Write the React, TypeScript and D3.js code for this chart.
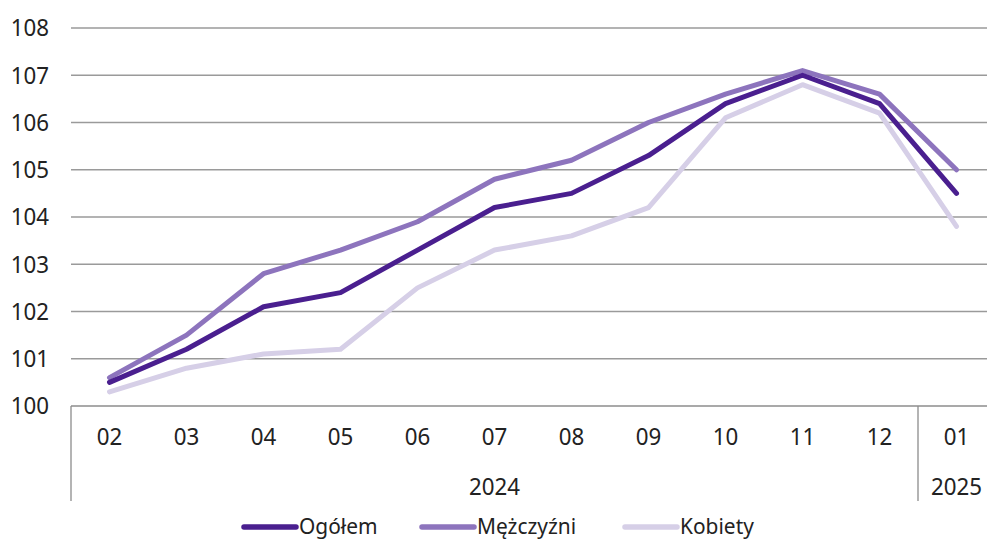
import React from "react";
import * as d3 from "d3";

const months = ["02", "03", "04", "05", "06", "07", "08", "09", "10", "11", "12", "01"];
const years = [
  { label: "2024", from: 0, to: 10 },
  { label: "2025", from: 11, to: 11 },
];
const ogolem = [100.5, 101.2, 102.1, 102.4, 103.3, 104.2, 104.5, 105.3, 106.4, 107.0, 106.4, 104.5];
const mezczyzni = [100.6, 101.5, 102.8, 103.3, 103.9, 104.8, 105.2, 106.0, 106.6, 107.1, 106.6, 105.0];
const kobiety = [100.3, 100.8, 101.1, 101.2, 102.5, 103.3, 103.6, 104.2, 106.1, 106.8, 106.2, 103.8];
const yTicks = [100, 101, 102, 103, 104, 105, 106, 107, 108];

const series = [
  { name: "Ogółem", values: ogolem, color: "#4a1f8f" },
  { name: "Mężczyźni", values: mezczyzni, color: "#8d74bd" },
  { name: "Kobiety", values: kobiety, color: "#d6cfe7" },
];

const W = 987;
const H = 540;
const FONT = "'Noto Sans', sans-serif";

function T(props: { x: number; y: number; anchor?: string; children: React.ReactNode; size?: number }) {
  const { x, y, anchor = "middle", children, size = 24 } = props;
  return (
    <text transform={`translate(${x},${y}) scale(0.93,1)`} dy="0.35em" textAnchor={anchor} fontSize={size} fill="#222">
      {children}
    </text>
  );
}

export default function App() {
  const x = d3.scaleBand<string>().domain(months.map((m, i) => i + "")).range([71, 71 + 77 * 12]);
  const y = d3.scaleLinear().domain([100, 108]).range([406, 28]);
  const cx = (i: number) => (x(i + "") as number) + x.bandwidth() / 2;
  const line = d3
    .line<number>()
    .x((_, i) => cx(i))
    .y((d) => y(d));
  const legendX = [242, 420, 623];
  return (
    <div style={{ position: "fixed", left: 0, top: 0, width: W, height: H, overflow: "hidden", background: "#fff" }}>
      <svg width={W} height={H} style={{ display: "block" }} fontFamily={FONT}>
        {yTicks.map((t) => (
          <g key={t}>
            <line x1={71} x2={W} y1={y(t)} y2={y(t)} stroke={t === 100 ? "#8c8c8c" : "#9a9a9a"} strokeWidth={1.3} />
            <T x={49} y={y(t)} anchor="end">
              {t}
            </T>
          </g>
        ))}
        <line x1={71} x2={71} y1={406} y2={501} stroke="#8c8c8c" strokeWidth={1.3} />
        <line x1={cx(11) - x.bandwidth() / 2} x2={cx(11) - x.bandwidth() / 2} y1={406} y2={501} stroke="#8c8c8c" strokeWidth={1.3} />
        {months.map((m, i) => (
          <T key={i} x={cx(i)} y={437}>
            {m}
          </T>
        ))}
        {years.map((yr) => (
          <T key={yr.label} x={(cx(yr.from) + cx(yr.to)) / 2} y={487}>
            {yr.label}
          </T>
        ))}
        {series
          .slice()
          .reverse()
          .map((s) => (
            <path key={s.name} d={line(s.values) || ""} fill="none" stroke={s.color} strokeWidth={5} strokeLinejoin="round" strokeLinecap="round" />
          ))}
        {series.map((s, i) => (
          <g key={s.name} transform={`translate(${legendX[i]},526)`}>
            <line x1={2} x2={54} y1={1} y2={1} stroke={s.color} strokeWidth={5.5} strokeLinecap="round" />
            <T x={57} y={0} anchor="start" size={22.5}>
              {s.name}
            </T>
          </g>
        ))}
      </svg>
    </div>
  );
}
